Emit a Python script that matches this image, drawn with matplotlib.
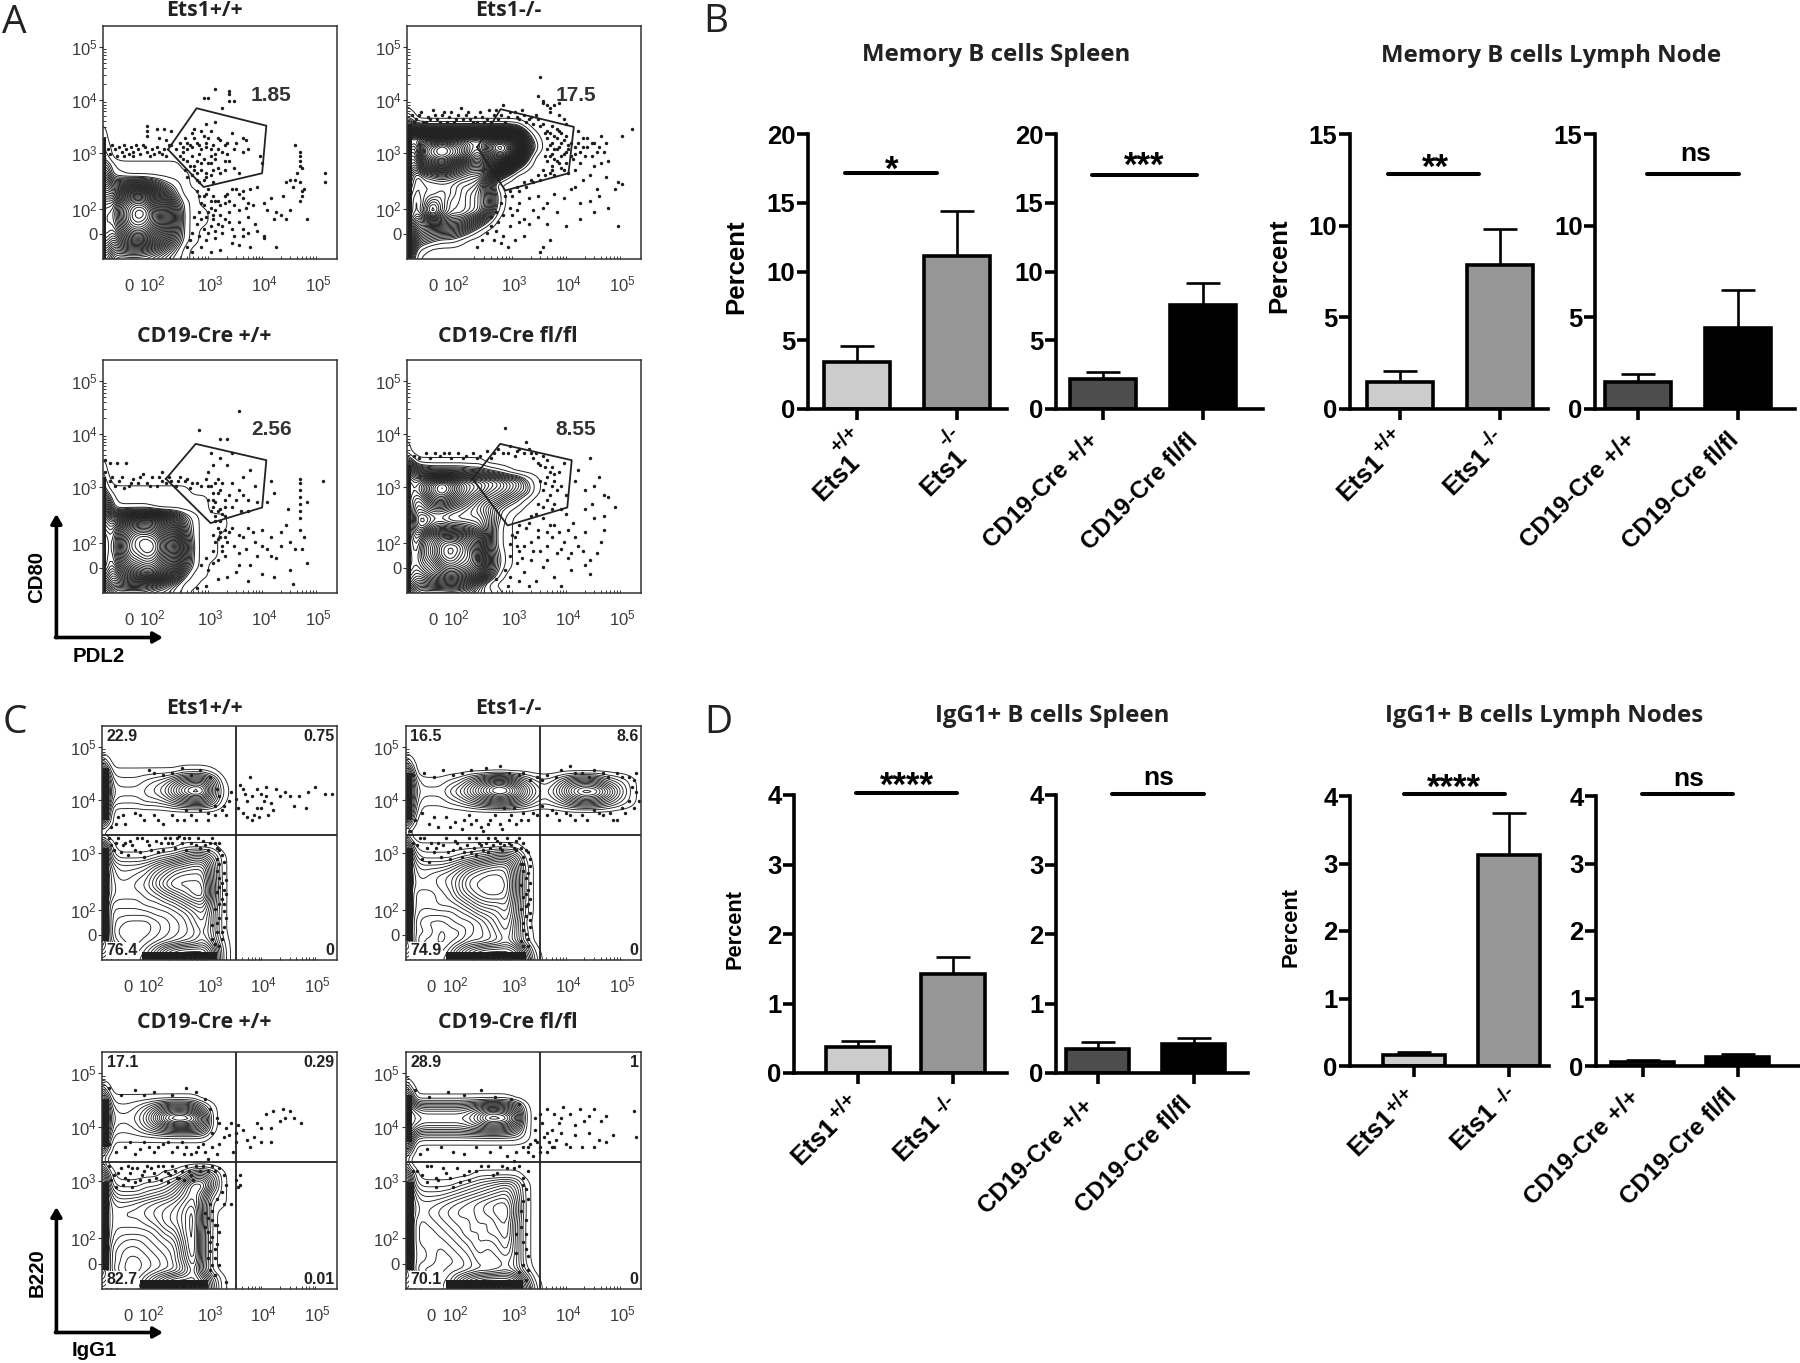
#!/usr/bin/env python3
"""Flow plots (A, C) and bar charts (B, D) for the Ets1 memory B cell figure."""

import numpy as np
import matplotlib
matplotlib.use("Agg")
import matplotlib.pyplot as plt

W, H = 1800, 1363
plt.rcParams["font.family"] = ["Liberation Sans", "DejaVu Sans"]
plt.rcParams["mathtext.fontset"] = "custom"
plt.rcParams["mathtext.rm"] = "Liberation Sans"

# flow plots: channel scale 0-100 on both axes
GRID_X = [0, 2, 4, 7, 11, 15, 19, 23, 27, 31, 35, 39, 43, 47, 51, 55, 59, 63, 67, 71, 76, 81, 86, 91, 96, 100]
GRID_Y = list(range(0, 101, 4))
TICK_LABELS = ["0", r"$\mathregular{10^{2}}$", r"$\mathregular{10^{3}}$", r"$\mathregular{10^{4}}$", r"$\mathregular{10^{5}}$"]
X_TICKS = [11, 21, 46, 69, 92]
Y_TICKS = [10.6, 21.4, 45.7, 68.4, 91]

# density estimates per cell, base 36 digits, rows from the bottom up
A1_ROWS = ["89655554321", "ab889987531", "cdacefec9521", "decfijifb621", "dedgklkhc7211", "dedhkmlhc7211",
           "cdcgjkjfb521", "ab9cfgfb7311", "89668875321", "66221111111", "4421111111", "22", "21", "2", "1"]
A2_ROWS = ["641", "a721", "ca54322100", "dc876665310", "edaabbaa8520", "fecfjfddcb61", "fecehfddcb82",
           "fedeefedcb720", "gfdeeeeddc60", "hgdfghgfeec620", "jigmnpmjhhjkd41", "kijqstsqmkprrj40",
           "mkjqsusqnmrvtn92", "nnmomonnmmoqpj51", "776555555555541", "33", "1"]
A3_ROWS = ["875444433210", "ba8899875311", "dc9ceghgd9311", "edbfijkjgc621", "edcgklmlhd7211", "edchlmnmie8211",
           "edcgkmmlhd6211", "dcbfijjifb52111", "cb9adefeb842111", "9832222111111", "7521111111111",
           "42111111111", "31", "2", "1"]
A4_ROWS = ["976555554321", "cb99aaba8410", "dcbcefgfec620", "edcefijihe731", "edcfhkljie731", "edbfhklkhd621",
           "edaegiihgd621", "ec98bcbba9621", "dc87998888631", "dc9abba9875321", "dcabfgeca876431",
           "dccehjhecb987541", "dcbdgigdcba97631", "c986555544321", "5511111111", "2", "1"]
C1_ROWS = ["76544469dfgggc3", "a9763358cefffb3", "d95322345678a72", "f94222234567961", "f94322234568a61",
           "f94444455679b61", "f955556678acd71", "fa766678acegh81", "fa76678begggg81", "fa75567acefff71",
           "fa6444579bcdd71", "e93111123468851", "c71000000011110", "1", "1", "a5", "c8",
           "eb3222334689961", "fc4333457bfih82", "eb32223458bcc71", "c81111111122210", "52"]
C2_ROWS = ["7654446adfgggf92", "a9753359cefffd71", "d95332346678a72", "f95542335679b72", "f9543345568ac71",
           "f965555679abd82", "f9666778acdde82", "f966678bdfggf92", "fa77789cfgggg92", "fa76789befggf92",
           "fa655568acdee82", "e94222234568861", "c71111111111110", "5", "2", "a6", "d92",
           "db311123579aa8632358a9631", "ec4222469dhkjf95359ehgb51", "db31112369ced9632369a9531", "b8", "52"]
C3_ROWS = ["7654447adfffd61", "a9753369ceeec51", "d9532234569e61", "f954223457bg71", "f954334567ch71",
           "fa65445678dh71", "fa7666679aeh71", "fa777789bceh81", "fa77889abceh81", "fa766789abdf811",
           "fa53334568bea31", "e8211122359ee71", "b61000001137851", "4", "3", "94", "c8111111111110",
           "eb3223579aaa81", "fc43347cilljb1", "eb322358bcca51", "b711111111110", "52"]
C4_ROWS = ["8654446adfgggf92", "a9754459cefffd61", "d95333445667862", "f95543345777861", "f95543456878a61",
           "f95444567989b61", "f954456798aac61", "f95456788a9bc61", "fa6567899abcd71", "fa6556789abcc71",
           "e95333456789a61", "d82111123456751", "b61000000111110", "4", "3", "a5", "da3222222222221",
           "fdb99999abccb81", "gedcccccdgllkd1", "fdb99999aceec91", "c9111111111110", "63", "1"]

# solid dark strips along the left edge: (y from, y to, width)
A_STRIPS = [[(0, 52, 1.4)], [(0, 58, 2.0)], [(0, 50, 1.4)], [(0, 55, 1.7)]]
C_STRIPS = [[(8, 48, 3.0), (60, 82, 2.8)], [(8, 48, 3.0), (60, 80, 2.8)], [(8, 45, 2.8), (60, 80, 2.8)], [(8, 45, 3.4), (62, 82, 2.8)]]
# solid band at the bottom of the C plots: (x from, x to, height)
C_BANDS = [(17, 49, 3.6), (17, 51, 3.6), (16, 45, 3.6), (17, 50, 4)]

A1_DOTS = [(48, 73), (43, 69), (45, 69), (54, 72), (54, 71), (54, 68), (56, 68), (51, 65), (44, 58), (48, 59), (38, 54),
           (35, 52), (33, 50), (37, 49), (40, 50), (43, 53), (45, 52), (44, 48), (47, 49), (50, 51), (55, 54), (60, 52),
           (61, 51), (57, 50), (62, 47), (53, 50), (60, 46), (67, 44), (68, 41), (58, 37), (50, 37), (56, 39), (52, 42),
           (49, 39), (46, 44), (41, 45), (38, 44), (36, 42), (39, 40), (42, 41), (44, 37), (38, 36), (41, 33), (35, 38),
           (47, 33), (46, 41), (51, 46), (48, 45), (34, 46), (31, 47), (29, 49), (33, 44), (40, 37), (36, 35),
           (2, 47), (3, 45), (5, 47), (6, 44), (7, 48), (8, 46), (9, 44), (10, 47), (11, 45), (12, 48), (13, 46), (14, 49),
           (15, 47), (16, 45), (18, 48), (19, 46), (21, 47), (22, 45), (24, 46), (25, 45), (26, 47), (19, 57), (19, 55),
           (19, 53), (23, 56), (24, 52), (27, 51), (29, 55), (26, 56), (28, 49),
           (40, 29), (43, 27), (45, 30), (48, 25), (46, 22), (42, 24), (41, 20), (44, 18), (47, 19), (50, 23), (52, 27),
           (55, 30), (58, 28), (60, 26), (63, 30), (66, 31), (61, 22), (58, 21), (54, 20), (52, 17), (49, 15), (46, 14),
           (43, 13), (40, 15), (38, 11), (41, 10), (44, 8), (48, 9), (51, 11), (55, 13), (58, 16), (62, 18), (65, 15),
           (69, 24), (72, 26), (70, 21), (74, 20), (73, 17), (66, 12), (69, 9), (63, 5), (60, 10), (55, 7), (50, 4), (46, 3),
           (36, 5), (38, 3), (42, 5), (76, 19), (80, 21), (77, 27), (78, 17), (87, 17), (82, 49), (84, 46), (84, 44), (84, 42),
           (84, 40), (85, 39), (83, 37), (82, 34), (84, 33), (86, 30), (85, 29), (85, 27), (84, 25), (80, 34), (81, 31),
           (95, 37), (95, 33), (78, 33), (69, 10), (74, 5),
           (34, 48), (36, 47), (38, 48), (39, 52), (41, 49), (42, 47), (44, 50), (46, 47), (49, 47), (48, 43), (45, 41), (43, 43),
           (40, 42), (37, 40), (39, 38), (42, 38), (44, 35), (46, 36), (43, 34), (40, 34), (47, 38), (52, 38), (54, 42), (53, 45),
           (56, 47), (52, 49), (49, 52), (46, 55), (42, 55), (39, 56), (36, 50), (34, 43), (41, 27), (44, 28), (47, 27), (46, 25),
           (43, 23), (45, 20), (48, 21), (50, 19), (47, 17), (49, 25), (52, 24), (54, 25), (56, 23), (53, 28), (57, 30), (60, 29),
           (62, 24), (64, 23), (51, 14), (48, 12), (45, 11), (42, 17), (39, 18), (37, 8), (54, 16), (56, 10), (60, 13), (62, 11),
           (58, 6), (4, 49), (9, 49), (13, 44), (17, 49), (20, 44), (23, 48), (27, 44)]
A2_DOTS = [(57, 78), (56, 70), (58, 68), (58, 67), (60, 66), (61, 65), (63, 66), (65, 67), (61, 63), (67, 60), (65, 62),
           (2, 62), (4, 60), (6, 63), (8, 59), (9, 61), (11, 64), (13, 60), (15, 62), (17, 59), (19, 63), (21, 60), (23, 65),
           (25, 62), (27, 60), (29, 61), (31, 63), (33, 59), (35, 64), (37, 62), (39, 60), (41, 66), (43, 61), (46, 63), (48, 60),
           (50, 62), (52, 60), (54, 58), (56, 60), (58, 58), (60, 55), (62, 57), (64, 56), (66, 54), (68, 58), (60, 52), (62, 50),
           (64, 52), (66, 50), (68, 53), (70, 50), (60, 47), (62, 45), (64, 47), (66, 44), (68, 46), (70, 44), (60, 42), (62, 40),
           (64, 42), (66, 39), (68, 41), (61, 37), (63, 36), (58, 38), (56, 36), (53, 34), (50, 33), (47, 31), (44, 29),
           (73, 55), (75, 52), (77, 48), (79, 50), (81, 46), (83, 53), (85, 50), (84, 46), (86, 42), (83, 41), (80, 40), (76, 44),
           (74, 41), (72, 38), (78, 36), (75, 34), (72, 31), (81, 30), (85, 35), (89, 30), (92, 32), (82, 27), (78, 25),
           (74, 24), (70, 30), (67, 26), (63, 28), (60, 24), (56, 27), (52, 26), (48, 24), (44, 22), (41, 19), (39, 16), (36, 14),
           (34, 11), (32, 8), (30, 5), (38, 12), (41, 10), (44, 14), (48, 16), (52, 15), (46, 8), (50, 10), (56, 18), (60, 15),
           (64, 20), (68, 14), (61, 8), (58, 5), (74, 17), (80, 20), (86, 22), (90, 14), (96, 56), (92, 53), (90, 33), (57, 3),
           (3, 59), (5, 62), (7, 59), (10, 60), (12, 62), (14, 59), (16, 63), (18, 61), (20, 59), (22, 62), (24, 60), (26, 63), (28, 59),
           (30, 59), (32, 61), (34, 60), (36, 59), (38, 64), (40, 62), (42, 59), (44, 63), (47, 61), (49, 64), (51, 59), (53, 61),
           (55, 62), (57, 57), (59, 54), (61, 54), (63, 53), (65, 55), (67, 51), (69, 49), (61, 49), (63, 47), (65, 48), (67, 45),
           (69, 47), (59, 44), (61, 44), (63, 43), (65, 41), (67, 38), (69, 37), (62, 38), (59, 36), (57, 34), (54, 33), (51, 31),
           (48, 29), (45, 27), (72, 48), (74, 46), (71, 43), (72, 45), (75, 48), (73, 50), (77, 52), (79, 44), (80, 50), (82, 48),
           (38, 20), (36, 18), (40, 24), (42, 27), (45, 19), (47, 21), (50, 17), (54, 21), (58, 22), (37, 8), (40, 7), (43, 5)]
A3_DOTS = [(58, 78), (41, 70), (50, 66), (53, 66), (1, 57), (3, 56), (6, 56), (10, 56), (1, 52), (3, 48), (5, 46), (7, 48),
           (9, 45), (11, 46), (13, 49), (15, 47), (17, 51), (19, 47), (21, 50), (23, 46), (25, 48), (25, 52), (27, 47), (29, 48),
           (31, 46), (33, 50), (35, 48), (37, 45), (40, 47), (42, 46), (45, 52), (47, 55), (50, 58), (46, 60), (55, 60), (53, 55),
           (49, 49), (45, 46), (47, 43), (45, 40), (47, 37), (50, 44), (52, 40), (55, 47), (58, 44), (60, 50), (63, 53), (65, 46),
           (62, 40), (55, 37), (50, 36), (48, 33), (46, 35), (52, 33), (59, 35), (72, 48), (73, 43), (70, 39), (84, 49), (84, 47),
           (84, 44), (84, 41), (84, 38), (84, 35), (84, 32), (87, 39), (79, 36), (94, 48), (49, 28), (47, 25), (50, 24),
           (52, 27), (55, 28), (53, 22), (51, 20), (47, 18), (44, 15), (42, 12), (45, 10), (49, 14), (52, 16), (56, 20), (58, 17),
           (60, 24), (62, 28), (65, 22), (66, 16), (63, 12), (57, 9), (53, 7), (49, 6), (44, 3), (40, 2), (68, 27), (72, 24),
           (70, 19), (76, 26), (74, 15), (78, 29), (80, 22), (82, 19), (84, 27), (86, 24), (85, 19), (87, 13), (80, 10),
           (62, 5), (68, 8), (73, 7), (81, 4),
           (4, 50), (8, 50), (12, 47), (16, 50), (20, 46), (24, 50), (28, 50), (32, 48), (36, 49), (38, 47), (44, 49), (46, 46),
           (48, 47), (49, 43), (48, 39), (49, 35), (47, 40), (51, 47), (52, 37), (48, 31), (50, 31), (51, 34), (54, 42), (57, 40),
           (60, 42), (62, 35), (66, 39), (50, 26), (52, 24), (48, 22), (51, 18), (49, 23), (54, 26), (47, 13), (58, 25), (61, 19),
           (64, 26), (68, 20), (72, 16), (58, 12), (76, 20)]
A4_DOTS = [(42, 71), (51, 65), (3, 59), (8, 60), (10, 58), (14, 59), (16, 60), (19, 58), (22, 60), (25, 59), (28, 60),
           (31, 59), (34, 61), (36, 58), (39, 62), (41, 60), (44, 63), (46, 59), (48, 62), (50, 60), (52, 62), (54, 58), (56, 56),
           (58, 59), (60, 57), (62, 54), (60, 50), (63, 48), (65, 52), (67, 56), (57, 48), (58, 44), (61, 42), (63, 38), (66, 46),
           (68, 42), (66, 36), (56, 38), (53, 33), (52, 30), (48, 29), (45, 25), (78, 58), (73, 53), (72, 48), (76, 44), (80, 46),
           (82, 50), (84, 42), (86, 41), (79, 38), (76, 36), (80, 32), (84, 33), (89, 37), (84, 27), (83, 22), (81, 17), (75, 18),
           (71, 30), (68, 34), (63, 29), (65, 26), (58, 32), (60, 26), (56, 24), (53, 22), (50, 20), (47, 26), (44, 16),
           (42, 10), (44, 7), (47, 13), (50, 9), (53, 14), (57, 18), (60, 20), (62, 24), (66, 19), (69, 15), (72, 24), (70, 10),
           (63, 7), (58, 11), (55, 5), (66, 3), (52, 3), (43, 3), (38, 6), (76, 12), (78, 8), (48, 18), (69, 27), (64, 17),
           (5, 58), (12, 60), (18, 60), (24, 58), (30, 58), (37, 60), (43, 60), (47, 61), (53, 60), (55, 60), (57, 55), (59, 54),
           (61, 52), (63, 51), (59, 47), (62, 46), (64, 44), (60, 40), (62, 36), (58, 37), (55, 34), (51, 28), (46, 24), (44, 21),
           (47, 20), (49, 15), (54, 18), (56, 27), (61, 29), (67, 22), (70, 17), (73, 20), (60, 14), (48, 5), (76, 26), (78, 14)]
C1_DOTS = [(20, 81), (22, 80), (26, 79), (30, 80), (34, 82), (38, 79), (42, 81), (46, 78), (49, 73), (50, 70), (52, 66), (53, 62),
           (48, 66), (45, 63), (42, 64), (38, 62), (35, 60), (30, 62), (26, 58), (22, 62), (18, 60), (14, 63), (10, 58),
           (7, 61), (4, 57), (55, 72), (57, 69), (60, 73), (62, 68), (64, 70), (66, 65), (68, 71), (70, 74), (72, 67), (74, 73),
           (76, 70), (78, 72), (80, 70), (82, 66), (84, 70), (88, 72), (91, 74), (95, 71), (98, 71), (63, 78), (60, 63), (62, 61),
           (64, 60), (67, 61), (68, 65), (59, 75), (73, 64), (65, 62), (69, 68), (71, 62), (87, 65),
           (3, 52), (6, 50), (9, 49), (12, 51), (14, 47), (17, 52), (20, 49), (23, 51), (26, 47), (29, 52), (31, 48), (34, 50), (37, 52),
           (40, 49), (43, 51), (46, 50), (49, 48), (51, 45), (50, 41), (52, 37), (51, 33), (49, 29), (51, 26), (48, 22), (50, 18),
           (47, 15), (49, 12), (51, 9), (48, 7), (52, 21), (50, 31), (49, 38), (53, 28), (52, 14), (8, 46), (4, 49), (11, 45),
           (16, 46), (18, 44), (24, 46), (45, 47), (41, 52), (36, 47), (33, 53), (28, 50),
           (5, 47), (7, 52), (10, 50), (13, 49), (15, 52), (19, 51), (21, 47), (25, 50), (27, 52), (30, 50), (32, 52), (35, 52), (38, 50),
           (42, 48), (44, 49), (47, 52), (48, 50), (50, 50), (50, 47), (49, 43), (52, 42), (53, 34), (50, 35), (52, 30), (50, 24),
           (52, 24), (49, 16), (51, 12), (53, 18), (47, 9), (50, 6), (48, 62), (51, 64), (45, 60), (40, 60), (36, 64), (32, 60), (24, 60),
           (16, 62), (9, 62), (6, 58), (54, 68), (58, 65), (61, 71), (66, 73), (70, 70)]
C2_DOTS = [(3, 79), (8, 80), (12, 78), (16, 81), (20, 79), (24, 80), (28, 81), (34, 82), (40, 83), (44, 80), (48, 79), (53, 77), (56, 78),
           (60, 79), (66, 81), (70, 83), (75, 80), (80, 81), (86, 78), (90, 80), (95, 78), (98, 80), (96, 74), (98, 72), (95, 68), (97, 65),
           (93, 63), (90, 60), (87, 63), (84, 62), (80, 64), (75, 62), (72, 60), (68, 63), (65, 60), (62, 64), (58, 66), (56, 62), (52, 60),
           (50, 63), (47, 58), (44, 60), (41, 56), (38, 62), (35, 58), (33, 55), (30, 60), (27, 62), (24, 56), (21, 59), (17, 61),
           (14, 57), (10, 58), (7, 63), (4, 60), (2, 55), (42, 65), (46, 65),
           (3, 50), (6, 52), (9, 48), (12, 46), (14, 50), (17, 52), (20, 47), (22, 50), (25, 46), (27, 52), (29, 48), (31, 50), (33, 47), (35, 52),
           (37, 49), (39, 51), (41, 47), (43, 52), (45, 49), (47, 51), (49, 48), (50, 44), (49, 41), (52, 46), (50, 38), (51, 35), (49, 32),
           (52, 30), (50, 27), (52, 24), (49, 22), (51, 19), (50, 16), (53, 14), (51, 11), (49, 8), (52, 6), (50, 3), (53, 20), (53, 40), (47, 47),
           (7, 43), (10, 42), (15, 44), (19, 43), (24, 44), (30, 45), (35, 46), (40, 48),
           (5, 49), (8, 52), (11, 50), (13, 48), (16, 49), (18, 46), (21, 51), (23, 48), (26, 49), (28, 46), (30, 52), (32, 49), (34, 50), (36, 48),
           (38, 52), (40, 50), (42, 49), (44, 50), (46, 48), (48, 52), (50, 50), (51, 47), (53, 43), (50, 41), (52, 37), (53, 33), (51, 28),
           (53, 26), (51, 23), (53, 17), (50, 13), (52, 9), (50, 6), (40, 58), (36, 60), (32, 57), (28, 58), (25, 60), (19, 57), (12, 61), (45, 62),
           (49, 60), (54, 63), (60, 62), (64, 63), (70, 62), (77, 60), (82, 63), (88, 60), (92, 65), (99, 68), (97, 77), (92, 78), (84, 80),
           (78, 78), (72, 80), (64, 78), (58, 77), (50, 80)]
C3_DOTS = [(3, 85), (8, 82), (14, 84), (18, 82), (22, 83), (30, 82), (36, 85), (40, 83), (44, 80), (46, 76), (49, 72), (50, 70), (53, 68), (52, 64),
           (55, 70), (57, 66), (60, 67), (62, 63), (65, 64), (66, 70), (68, 68), (70, 74), (72, 68), (73, 75), (76, 71), (77, 76), (78, 72), (80, 75),
           (82, 72), (85, 70), (72, 62), (68, 62), (63, 60), (57, 62), (56, 58), (47, 66), (47, 60), (44, 58), (41, 60), (38, 57), (34, 62), (30, 58),
           (26, 61), (22, 58), (18, 62), (14, 57), (10, 60), (6, 58), (3, 61), (45, 55), (49, 57), (35, 57),
           (3, 52), (5, 48), (8, 51), (10, 47), (12, 49), (14, 45), (15, 51), (17, 48), (19, 52), (20, 46), (22, 49), (24, 52), (25, 46), (27, 50),
           (29, 48), (30, 52), (32, 47), (34, 50), (36, 52), (38, 48), (40, 52), (43, 52), (47, 52), (50, 51), (52, 48), (53, 44), (51, 41), (49, 38),
           (52, 36), (55, 36), (47, 33), (45, 30), (48, 27), (45, 24), (47, 22), (49, 19), (46, 16), (48, 13), (50, 10), (46, 8), (48, 6), (53, 3),
           (57, 46), (59, 48), (59, 44), (58, 43), (9, 44), (13, 43), (6, 43), (11, 52), (28, 45),
           (4, 46), (7, 49), (11, 46), (13, 51), (16, 46), (18, 50), (21, 51), (23, 47), (26, 52), (28, 49), (31, 50), (33, 47), (35, 46), (37, 50),
           (39, 46), (42, 50), (45, 50), (48, 50), (46, 36), (44, 32), (47, 29), (46, 20), (48, 17), (45, 13), (47, 10), (49, 27), (50, 24), (44, 26),
           (24, 60), (20, 60), (16, 59), (12, 62), (28, 62), (32, 60), (36, 60), (40, 58), (43, 61), (50, 61), (54, 65), (58, 69)]
C4_DOTS = [(4, 84), (10, 81), (18, 83), (25, 82), (32, 84), (38, 81), (45, 80), (48, 78), (55, 72), (57, 74), (60, 76), (63, 74), (65, 70), (67, 77),
           (70, 74), (72, 69), (74, 76), (76, 71), (78, 73), (80, 76), (83, 71), (85, 73), (88, 65), (97, 75), (98, 64), (55, 63), (57, 60), (60, 66),
           (61, 62), (62, 60), (64, 63), (66, 66), (68, 61), (70, 60), (72, 65), (75, 60), (78, 66), (80, 60), (82, 63), (85, 62), (60, 58), (63, 60), (53, 61),
           (50, 60), (47, 58), (43, 56), (40, 60), (36, 58), (30, 60), (25, 57), (20, 58), (15, 60), (9, 59), (6, 57), (46, 54), (52, 58),
           (3, 50), (7, 48), (11, 52), (14, 46), (17, 49), (20, 43), (23, 45), (27, 50), (32, 52), (37, 48), (41, 52), (46, 51), (50, 47), (51, 42),
           (50, 37), (49, 33), (51, 29), (49, 26), (47, 23), (50, 20), (52, 14), (50, 10), (48, 7), (51, 4), (47, 15), (9, 45), (13, 43), (27, 46),
           (5, 50), (9, 52), (13, 47), (16, 51), (19, 47), (22, 51), (25, 48), (30, 50), (35, 52), (39, 49), (43, 51), (48, 52), (52, 50),
           (50, 44), (52, 38), (51, 23), (51, 17), (52, 8), (56, 62), (59, 64), (55, 67), (58, 70), (62, 67), (66, 72), (52, 60), (57, 58), (54, 56)]

GATES_A = [[(27.8, 47), (40, 64.7), (69.8, 57.2), (68, 36.8), (43, 30.9)],
           [(30, 48), (40, 64.3), (71.3, 56.7), (69, 36.8), (42, 29.4)],
           [(26.9, 49), (39.6, 64), (69.8, 57), (68, 36.7), (46, 30)],
           [(28, 49), (39.8, 64), (70.4, 57), (68.5, 36.7), (43, 29)]]
GATE_LABELS = ["1.85", "17.5", "2.56", "8.55"]
QUAD_LABELS = [["22.9", "0.75", "76.4", "0"], ["16.5", "8.6", "74.9", "0"],
               ["17.1", "0.29", "82.7", "0.01"], ["28.9", "1", "70.1", "0"]]
QUAD_X = 57.3
QUAD_Y = 53.5
FLOW_TITLES = ["Ets1+/+", "Ets1-/-", "CD19-Cre +/+", "CD19-Cre fl/fl"]

# bars: group means and upper error lengths
MEM_SPLEEN_ETS = [3.4, 11.1]
MEM_SPLEEN_ETS_ERR = [1.2, 3.3]
MEM_SPLEEN_CRE = [2.2, 7.6]
MEM_SPLEEN_CRE_ERR = [0.5, 1.6]
MEM_LN_ETS = [1.5, 7.85]
MEM_LN_ETS_ERR = [0.6, 1.95]
MEM_LN_CRE = [1.5, 4.4]
MEM_LN_CRE_ERR = [0.4, 2.1]
IGG_SPLEEN_ETS = [0.38, 1.43]
IGG_SPLEEN_ETS_ERR = [0.08, 0.24]
IGG_SPLEEN_CRE = [0.34, 0.42]
IGG_SPLEEN_CRE_ERR = [0.10, 0.08]
IGG_LN_ETS = [0.16, 3.13]
IGG_LN_ETS_ERR = [0.05, 0.62]
IGG_LN_CRE = [0.06, 0.13]
IGG_LN_CRE_ERR = [0.03, 0.05]
ETS_COLORS = ["#cccccc", "#969696"]
CRE_COLORS = ["#4d4d4d", "#000000"]

fig = plt.figure(figsize=(W / 100, H / 100), dpi=100, facecolor="white")


def px_axes(left, top, right, bottom):
    return fig.add_axes([left / W, 1 - bottom / H, (right - left) / W, (bottom - top) / H])


def density(rows):
    # the typed cells, rounded off so the contours are not cut along the grid
    z = np.zeros((len(GRID_Y), len(GRID_X)))
    for i, row in enumerate(rows):
        for j, ch in enumerate(row[:len(GRID_X)]):
            z[i, j] = int(ch, 36)
    fine = np.arange(0, 100.5, 1.0)
    z = np.array([np.interp(fine, GRID_X, r) for r in z])
    z = np.array([np.interp(fine, GRID_Y, c) for c in z.T]).T
    kernel = np.array([1, 4, 6, 4, 1]) / 16
    for _ in range(2):
        z = np.pad(z, 2, mode="edge")
        z = np.apply_along_axis(lambda m: np.convolve(m, kernel, mode="same"), 0, z)[2:-2, 2:-2]
        z = np.pad(z, 2, mode="edge")
        z = np.apply_along_axis(lambda m: np.convolve(m, kernel, mode="same"), 1, z)[2:-2, 2:-2]
    return fine, z


def flow_axes(box, rows, dots, levels, strips, lw=0.7):
    ax = px_axes(*box)
    fine, z = density(rows)
    ax.contour(fine, fine, z, levels=levels, colors="#222222", linewidths=lw)
    for y0, y1, width in strips:
        ax.fill_between([0, width], y0, y1, color="#1c1c1c", lw=0)
    ax.scatter([d[0] for d in dots], [d[1] for d in dots], s=6, c="#1c1c1c", marker="o", linewidths=0)
    ax.set_xlim(0, 100)
    ax.set_ylim(0, 100)
    ax.set_xticks(X_TICKS, TICK_LABELS)
    ax.set_yticks(Y_TICKS, TICK_LABELS)
    ax.tick_params(axis="x", length=0, pad=23, labelsize=12, labelcolor="#3c3c3c")
    ax.tick_params(axis="y", length=3, width=0.8, pad=1, labelsize=12, labelcolor="#3c3c3c", color="#333333")
    for label in ax.get_xticklabels():
        label.set_verticalalignment("baseline")
    decades_x = [X_TICKS[i] + (X_TICKS[i + 1] - X_TICKS[i]) * np.log10(k) for i in range(1, 4) for k in range(2, 10)]
    decades_y = [Y_TICKS[i] + (Y_TICKS[i + 1] - Y_TICKS[i]) * np.log10(k) for i in range(1, 4) for k in range(2, 10)]
    ax.set_xticks(decades_x, minor=True)
    ax.set_yticks(decades_y, minor=True)
    ax.tick_params(which="minor", direction="in", length=2.5, width=0.7, color="#333333")
    for s in ax.spines.values():
        s.set_linewidth(1.1)
        s.set_color("#333333")
    return ax


def bar_axes(left, right, c1, c2, width, top, bottom, vmax, ticks, values, errs, colors):
    ax = px_axes(left, top, right, bottom)
    pitch = c2 - c1
    lw = 2.6
    ax.errorbar([0, 1], values, yerr=[[0, 0], errs], fmt="none", ecolor="black", elinewidth=1.9,
                capsize=12.2, capthick=1.9, zorder=1)
    ax.bar([0, 1], values, width=(width - 3.5) / pitch, color=colors, edgecolor="black", linewidth=lw, zorder=2)
    ax.set_xlim((left - c1) / pitch, (right - c1) / pitch)
    ax.set_ylim(0, vmax)
    ax.set_xticks([0, 1], ["", ""])
    ax.set_yticks(ticks)
    ax.tick_params(length=8, width=lw, pad=1)
    ax.tick_params(axis="y", labelsize=18.5)
    for label in ax.get_yticklabels():
        label.set_fontweight("bold")
    ax.patch.set_alpha(0)
    ax.spines[["top", "right"]].set_visible(False)
    ax.spines[["left", "bottom"]].set_linewidth(lw)
    return ax


# panels A and C
A_LEVELS = np.r_[0.5, 1.5, 2.5, np.arange(3, 36, 0.5)]
C_LEVELS = np.arange(0.5, 36, 1.0)
A_BOXES = [(103, 26, 337, 259), (407, 26, 641, 259), (103, 360, 337, 593), (407, 360, 641, 593)]
C_BOXES = [(102, 726, 336.5, 960), (405.5, 726, 641, 960), (102, 1052, 336.5, 1289), (405.5, 1052, 641, 1289)]
for i, (box, rows, dots) in enumerate(zip(A_BOXES, [A1_ROWS, A2_ROWS, A3_ROWS, A4_ROWS],
                                          [A1_DOTS, A2_DOTS, A3_DOTS, A4_DOTS])):
    ax = flow_axes(box, rows, dots, A_LEVELS, A_STRIPS[i])
    gate = GATES_A[i] + GATES_A[i][:1]
    ax.plot([g[0] for g in gate], [g[1] for g in gate], color="#222222", lw=1.3)
    ax.text(72, 70, GATE_LABELS[i], ha="center", va="center", fontsize=15, fontweight="bold", color="#333333")

for i, (box, rows, dots) in enumerate(zip(C_BOXES, [C1_ROWS, C2_ROWS, C3_ROWS, C4_ROWS],
                                          [C1_DOTS, C2_DOTS, C3_DOTS, C4_DOTS])):
    ax = flow_axes(box, rows, dots, C_LEVELS, C_STRIPS[i], lw=0.65)
    x0, x1, height = C_BANDS[i]
    ax.fill_between([x0, x1], 0, height, color="#1c1c1c", lw=0)
    ax.axvline(QUAD_X, color="#222222", lw=1.3)
    ax.axhline(QUAD_Y, color="#222222", lw=1.3)
    q = QUAD_LABELS[i]
    style = dict(fontsize=11.5, fontweight="bold", color="#222222", va="center")
    ax.text(2, 95.5, q[0], ha="left", **style)
    ax.text(99, 95.5, q[1], ha="right", **style)
    ax.text(2, 4, q[2], ha="left", bbox=dict(fc="white", ec="none", pad=0.8), **style)
    ax.text(99, 4, q[3], ha="right", **style)

# panels B and D
bar_axes(808, 1007, 857, 957, 69, 134, 409, 20, [0, 5, 10, 15, 20], MEM_SPLEEN_ETS, MEM_SPLEEN_ETS_ERR, ETS_COLORS)
bar_axes(1056, 1263, 1103, 1203, 69, 134, 409, 20, [0, 5, 10, 15, 20], MEM_SPLEEN_CRE, MEM_SPLEEN_CRE_ERR, CRE_COLORS)
bar_axes(1350, 1548, 1400, 1500, 69, 134, 409, 15, [0, 5, 10, 15], MEM_LN_ETS, MEM_LN_ETS_ERR, ETS_COLORS)
bar_axes(1595, 1795, 1638, 1738, 69, 134, 409, 15, [0, 5, 10, 15], MEM_LN_CRE, MEM_LN_CRE_ERR, CRE_COLORS)
bar_axes(794, 1007, 858, 953, 67, 795, 1073, 4, [0, 1, 2, 3, 4], IGG_SPLEEN_ETS, IGG_SPLEEN_ETS_ERR, ETS_COLORS)
bar_axes(1056, 1248, 1097.5, 1193.6, 67, 795, 1073, 4, [0, 1, 2, 3, 4], IGG_SPLEEN_CRE, IGG_SPLEEN_CRE_ERR, CRE_COLORS)
bar_axes(1350, 1549, 1414, 1509, 66, 796, 1066, 4, [0, 1, 2, 3, 4], IGG_LN_ETS, IGG_LN_ETS_ERR, ETS_COLORS)
bar_axes(1596, 1799, 1642.5, 1737.5, 67, 796, 1066, 4, [0, 1, 2, 3, 4], IGG_LN_CRE, IGG_LN_CRE_ERR, CRE_COLORS)

# text, arrows and significance lines in figure pixels
ov = fig.add_axes([0, 0, 1, 1], zorder=10)
ov.set_xlim(0, W)
ov.set_ylim(H, 0)
ov.axis("off")

LIGHT = ["Open Sans", "DejaVu Sans"]
for letter, x, y in [("A", 14, 23), ("B", 716, 22), ("C", 15, 723), ("D", 718, 723)]:
    ov.text(x, y, letter, fontsize=28, family=LIGHT, color="#222222", ha="center", va="center")

for x, y, name in zip([204, 508, 204, 508], [11, 11, 336, 336], FLOW_TITLES):
    ov.text(x, y, name, fontsize=15.3, fontweight="bold", family=LIGHT, color="#222222", ha="center", va="center")
for x, y, name in zip([204, 508, 204, 508], [709, 709, 1023, 1023], FLOW_TITLES):
    ov.text(x, y, name, fontsize=15.3, fontweight="bold", family=LIGHT, color="#222222", ha="center", va="center")

for x, y, name in [(996, 55, "Memory B cells Spleen"), (1551, 56, "Memory B cells Lymph Node"),
                   (1052, 716, "IgG1+ B cells Spleen"), (1544, 716, "IgG1+ B cells Lymph Nodes")]:
    ov.text(x, y, name, fontsize=17.3, fontweight="bold", family=LIGHT, color="#222222", ha="center", va="center")

for x, y, size in [(736, 267, 18.5), (1279, 266, 18.5), (735, 929, 15.7), (1291, 927, 15.7)]:
    ov.text(x, y, "Percent", fontsize=size, fontweight="bold", rotation=90, ha="center", va="center")

for x1, x2, y, sig, sx, sy in [(845, 937, 173, "*", 892, 170), (1092, 1197, 175, "***", 1144, 166),
                               (1388, 1479, 174, "**", 1435, 168), (1647, 1739, 174, "ns", 1696, 154),
                               (856, 957, 793, "****", 907, 786), (1112, 1204, 794, "ns", 1159, 778),
                               (1404, 1505, 794, "****", 1454, 788), (1642, 1733, 794, "ns", 1689, 779)]:
    ov.plot([x1, x2], [y, y], color="black", lw=2.9, solid_capstyle="round")
    ov.text(sx, sy, sig, fontsize=25 if "*" in sig else 19, fontweight="bold", ha="center", va="center")

for x, y, name in [(1041, 491, "CD19-Cre +/+"), (1140, 492, "CD19-Cre fl/fl"),
                   (1578, 491, "CD19-Cre +/+"), (1681, 491, "CD19-Cre fl/fl"),
                   (1036, 1157, "CD19-Cre +/+"), (1134, 1155, "CD19-Cre fl/fl"),
                   (1582, 1148, "CD19-Cre +/+"), (1679, 1147, "CD19-Cre fl/fl")]:
    ov.text(x, y, name, fontsize=17.5, fontweight="bold", rotation=45, ha="center", va="center")
for x, y in [(837, 478), (944, 473), (1361, 478), (1467, 472), (815, 1142), (917, 1138), (1372, 1133), (1474, 1127)]:
    ov.text(x, y, "Ets1", fontsize=18.5, fontweight="bold", rotation=45, ha="center", va="center")
for x, y, name in [(844, 439, "+/+"), (948, 436, "-/-"), (1386, 440, "+/+"), (1490, 438, "-/-"),
                   (842, 1106, "+/+"), (944, 1104, "-/-"), (1399, 1100, "+/+"), (1504, 1095, "-/-")]:
    ov.text(x, y, name, fontsize=15, fontweight="bold", rotation=45, ha="center", va="center")

for x0, y0, ytop, yname, xname, yn, xn, ynx in [(56.4, 637.5, 514, "CD80", "PDL2", 577, 99, 657),
                                                (56.4, 1332.5, 1207, "B220", "IgG1", 1273, 94.5, 1351)]:
    arrow = dict(arrowstyle="-|>,head_width=0.32,head_length=0.55", color="black", lw=2.6, shrinkA=0, shrinkB=0)
    ov.annotate("", xy=(x0, ytop), xytext=(x0, y0), arrowprops=arrow)
    ov.annotate("", xy=(163, y0), xytext=(x0 - 1, y0), arrowprops=arrow)
    ov.text(37, yn, yname, fontsize=14.7, fontweight="bold", rotation=90, ha="center", va="center")
    ov.text(xn, ynx, xname, fontsize=14.7, fontweight="bold", ha="center", va="center")

fig.savefig("out.png", dpi=100)
